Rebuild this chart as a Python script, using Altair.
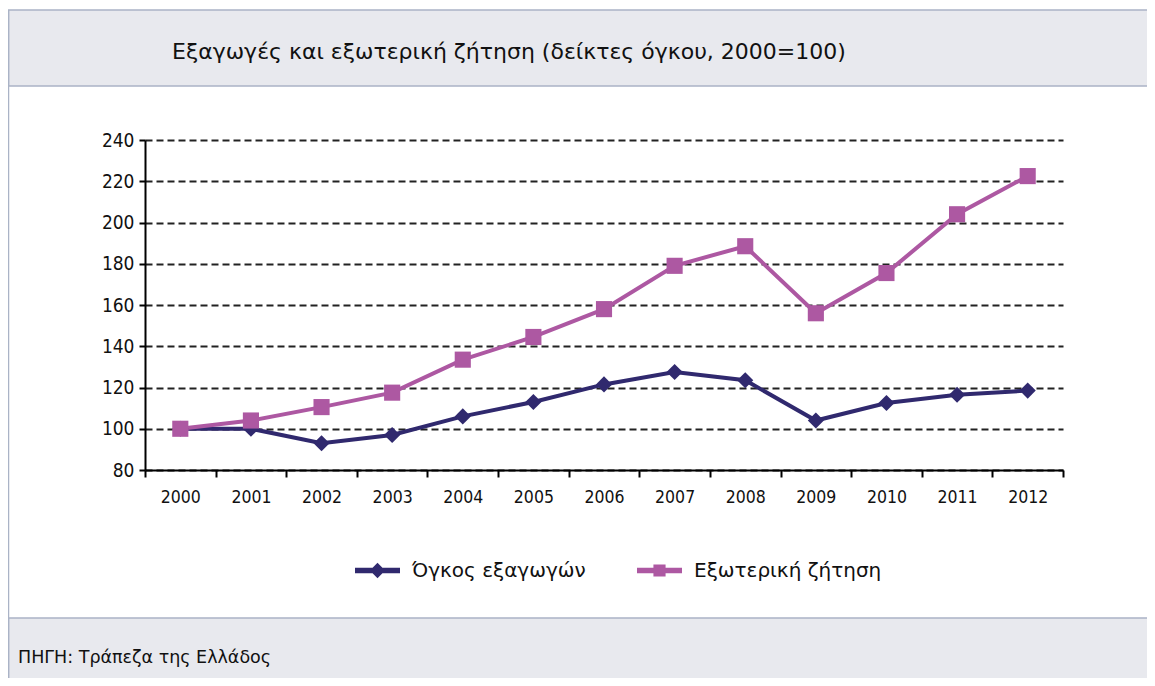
import altair as alt
import pandas as pd

# ---- data ----
years = ["2000", "2001", "2002", "2003", "2004", "2005", "2006",
         "2007", "2008", "2009", "2010", "2011", "2012"]
exports_volume = [100, 100, 93, 97, 106, 113, 121.5, 127.5, 123.5, 104, 112.5, 116.5, 118.5]
foreign_demand = [100, 104, 110.5, 117.5, 133.5, 144.5, 158, 179, 188.5, 156, 175.5, 204, 222.5]
series_names = ["Όγκος εξαγωγών", "Εξωτερική ζήτηση"]
series_colors = ["#30296e", "#ad58a2"]
y_ticks = [80, 100, 120, 140, 160, 180, 200, 220, 240]

title_text = "Εξαγωγές και εξωτερική ζήτηση (δείκτες όγκου, 2000=100)"
source_text = "ΠΗΓΗ: Τράπεζα της Ελλάδος"

rows = []
for name, vals in zip(series_names, [exports_volume, foreign_demand]):
    for y, v in zip(years, vals):
        rows.append({"year": y, "value": v, "series": name})
df = pd.DataFrame(rows)

TFONT = "DejaVu Sans"
AFONT = "Liberation Sans Narrow, DejaVu Sans Condensed, Liberation Sans"
W, H = 918, 330
PAD_L, PAD_T, PAD_R = 137, 132, 84
PAD_B = 670 - PAD_T - H

one = alt.Data(values=[{"a": 1}])
band_fill = "#e8e9ee"
frame_col = "#aab3c6"

title_band = alt.Chart(one).mark_rect(fill=band_fill, stroke=frame_col, strokeWidth=1.5).encode(
    x=alt.value(-PAD_L + 0.5), x2=alt.value(W + PAD_R + 20),
    y=alt.value(-130), y2=alt.value(-54))
footer_band = alt.Chart(one).mark_rect(fill=band_fill, stroke=frame_col, strokeWidth=1.5).encode(
    x=alt.value(-PAD_L + 0.5), x2=alt.value(W + PAD_R + 20),
    y=alt.value(478), y2=alt.value(600))
left_frame = alt.Chart(one).mark_rule(color=frame_col, strokeWidth=1.5).encode(
    x=alt.value(-PAD_L + 0.5), y=alt.value(-130), y2=alt.value(600))

title_mark = alt.Chart(alt.Data(values=[{"t": title_text}])).mark_text(
    align="left", baseline="middle", font=TFONT, fontSize=22, color="#111"
).encode(text="t:N", x=alt.value(27), y=alt.value(-88))
source_mark = alt.Chart(alt.Data(values=[{"t": source_text}])).mark_text(
    align="left", baseline="middle", font=TFONT, fontSize=17.5, color="#111"
).encode(text="t:N", x=alt.value(-127), y=alt.value(518))

color_scale = alt.Scale(domain=series_names, range=series_colors)

x_enc = alt.X("year:O", sort=years,
              scale=alt.Scale(type="band", paddingInner=0, paddingOuter=0),
              axis=alt.Axis(title=None, labelAngle=0, tickBand="extent", ticks=True,
                            tickSize=7, tickWidth=2, tickColor="black",
                            domainColor="black", domainWidth=2,
                            labelFontSize=17.5, labelFont=AFONT, labelColor="#111",
                            labelPadding=11, grid=False))
y_enc = alt.Y("value:Q", scale=alt.Scale(domain=[80, 240], nice=False, zero=False),
              axis=alt.Axis(title=None, values=y_ticks, tickSize=6, tickWidth=2,
                            tickColor="black", domainColor="black", domainWidth=2,
                            labelFontSize=19, labelFont=AFONT, labelColor="#111",
                            labelPadding=5, grid=True, gridDash=[7, 4],
                            gridColor="#222", gridWidth=2))

base = alt.Chart(df)

lines = base.mark_line(strokeWidth=4).encode(
    x=x_enc, y=y_enc,
    color=alt.Color("series:N", scale=color_scale, legend=None),
    detail="series:N")

points = base.mark_point(filled=True, opacity=1, size=260).encode(
    x=x_enc, y=y_enc,
    color=alt.Color("series:N", scale=color_scale, legend=None),
    shape=alt.Shape("series:N", scale=alt.Scale(domain=series_names, range=["diamond", "square"]),
                    legend=None))

# legend-only layers: line + marker symbols as custom paths, one legend per series
legend_paths = ["M-1,-0.12L1,-0.12L1,0.12L-1,0.12Z M0,-0.34L0.34,0L0,0.34L-0.34,0Z",
                "M-1,-0.12L1,-0.12L1,0.12L-1,0.12Z M-0.27,-0.27L0.27,-0.27L0.27,0.27L-0.27,0.27Z"]
legend_x = [210, 492]
legend_layers = []
for name, col, path, lx in zip(series_names, series_colors, legend_paths, legend_x):
    leg = alt.Legend(title=None, orient="none", direction="horizontal",
                     legendX=lx, legendY=408, padding=0, symbolType=path,
                     symbolSize=2025, labelOffset=12, labelLimit=500,
                     labelFont=TFONT, labelFontSize=20, labelColor="#111",
                     symbolStrokeWidth=0, symbolOpacity=1)
    legend_layers.append(
        base.transform_filter("false").mark_point(filled=True, opacity=1).encode(
            x=x_enc, y=y_enc,
            color=alt.Color("series:N", scale=alt.Scale(domain=[name], range=[col]), legend=leg)))

chart = alt.layer(title_band, footer_band, left_frame, title_mark, source_mark,
                  lines, points, *legend_layers).resolve_scale(
    shape="independent", color="independent").properties(
    width=W, height=H,
    autosize=alt.AutoSizeParams(type="none"),
    padding={"left": PAD_L, "top": PAD_T, "right": PAD_R, "bottom": PAD_B},
    background="white",
).configure_view(stroke=None)

chart.save("out.html", embed_options={"renderer": "svg", "actions": False})
